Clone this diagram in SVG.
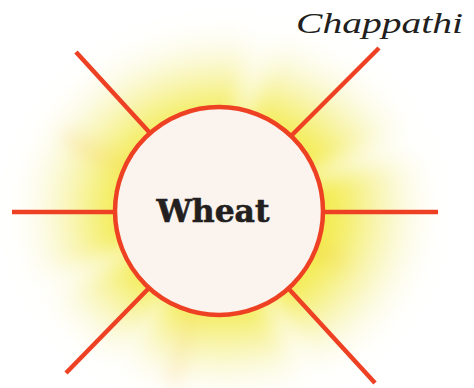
<svg xmlns="http://www.w3.org/2000/svg" width="474" height="388" viewBox="0 0 474 388">
<defs>
<style>
.spoke{stroke:#ee4124;stroke-width:4.5;fill:none;stroke-linecap:butt}
.hub{fill:#fbf3ee;stroke:#ee4124;stroke-width:4.5}
.lbl{font-family:"DejaVu Serif","Liberation Serif",serif;font-weight:bold;fill:#231f20}
.leaf{font-family:"Liberation Serif","DejaVu Serif",serif;font-style:italic;fill:#231f20}
</style>
<radialGradient id="glowG" cx="0.5" cy="0.5" r="0.5">
<stop offset="0" stop-color="#eee200" stop-opacity="1"/>
<stop offset="0.55" stop-color="#f1e934" stop-opacity="0.8"/>
<stop offset="0.8" stop-color="#f5f09a" stop-opacity="0.45"/>
<stop offset="1" stop-color="#ffffff" stop-opacity="0"/>
</radialGradient>
<filter id="blur" x="-30%" y="-30%" width="160%" height="160%"><feGaussianBlur stdDeviation="16"/></filter>
<filter id="blur2" x="-30%" y="-30%" width="160%" height="160%"><feGaussianBlur stdDeviation="9"/></filter>
</defs>
<g id="glow">
<ellipse cx="225" cy="212" rx="215" ry="190" fill="url(#glowG)" filter="url(#blur)"/>
<g filter="url(#blur2)" fill="#f5b030" opacity="0.18">
<polygon points="219,211 60,125 70,150"/>
<polygon points="219,211 340,250 345,270"/>
<polygon points="219,211 165,385 180,385"/>
</g>
<g filter="url(#blur2)" fill="#ffffff" opacity="0.5">
<polygon points="219,211 300,388 340,388"/>
<polygon points="219,211 440,150 440,110"/>
<polygon points="219,211 40,310 30,280"/>
<polygon points="219,211 120,388 90,388"/>
<polygon points="219,211 250,10 290,10"/>
</g>
</g>
<g id="connectors">
<line class="spoke" x1="76" y1="52" x2="150" y2="133"/>
<line class="spoke" x1="379" y1="48" x2="291" y2="136"/>
<line class="spoke" x1="12" y1="212" x2="116" y2="212"/>
<line class="spoke" x1="323" y1="212" x2="438" y2="212"/>
<line class="spoke" x1="150" y1="287" x2="66" y2="373"/>
<line class="spoke" x1="288" y1="288" x2="375" y2="383"/>
</g>
<g id="wheat">
<circle class="hub" cx="219" cy="211" r="104"/>
<text class="lbl" x="213" y="222" font-size="31" text-anchor="middle" textLength="113" lengthAdjust="spacingAndGlyphs" stroke="#231f20" stroke-width="0.6">Wheat</text>
</g>
<g id="chappathi">
<text class="leaf" x="296" y="33" font-size="30" textLength="167" lengthAdjust="spacingAndGlyphs">Chappathi</text>
</g>
</svg>
